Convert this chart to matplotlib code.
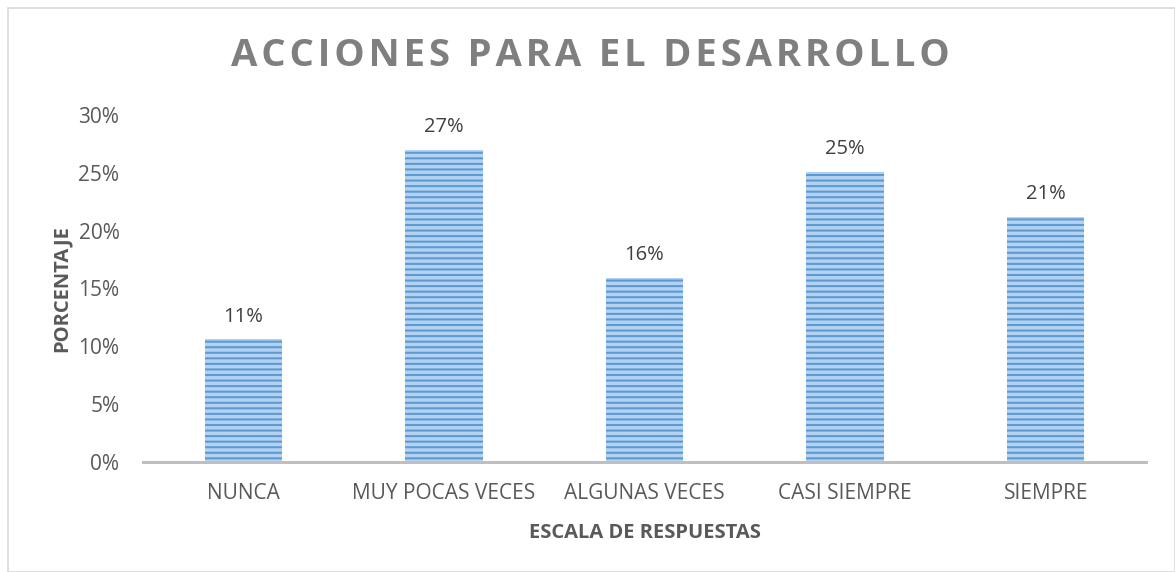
import numpy as np
import matplotlib.pyplot as plt
from matplotlib.patches import Rectangle
from matplotlib.ticker import PercentFormatter

categorias = ['NUNCA', 'MUY POCAS VECES', 'ALGUNAS VECES', 'CASI SIEMPRE', 'SIEMPRE']
valores = [0.106, 0.270, 0.159, 0.251, 0.212]
etiquetas = ['11%', '27%', '16%', '25%', '21%']

plt.rcParams['font.family'] = ['Open Sans', 'DejaVu Sans']
plt.rcParams['hatch.linewidth'] = 1.5
plt.rcParams['hatch.color'] = '#5B9BD5'

fig = plt.figure(figsize=(11.75, 5.72), dpi=100, facecolor='white')
ax = fig.add_axes([143 / 1175, 1 - 462 / 572, 1003 / 1175, 347 / 572])

x = np.arange(len(categorias))
ax.bar(x, valores, width=0.385, color='#B4D2F0', edgecolor='#5B9BD5',
       hatch='---', linewidth=0)

for xi, v, t in zip(x, valores, etiquetas):
    ax.text(xi, v + 0.011, t, ha='center', va='bottom', fontsize=14.5, color='#404040')

ax.set_xlim(-0.5, 4.5)
ax.set_ylim(0, 0.30)
ax.set_yticks(np.arange(0, 0.301, 0.05))
ax.yaxis.set_major_formatter(PercentFormatter(1.0, decimals=0))
ax.set_xticks(x)
ax.set_xticklabels(categorias)
ax.tick_params(axis='both', length=0, labelsize=15, labelcolor='#595959')
ax.tick_params(axis='x', pad=15)
ax.tick_params(axis='y', pad=17)
for s in ['top', 'right', 'left']:
    ax.spines[s].set_visible(False)
ax.spines['bottom'].set_color('#BFBFBF')
ax.spines['bottom'].set_linewidth(2.2)

ax.set_xlabel('ESCALA DE RESPUESTAS', fontsize=14.5, fontweight='bold', color='#595959', labelpad=14)
ax.set_ylabel('PORCENTAJE', fontsize=14.5, fontweight='bold', color='#595959', labelpad=5)

titulo = 'ACCIONES PARA EL DESARROLLO'
fig.text(590 / 1175, 1 - 56 / 572, '\u200a'.join(titulo), ha='center', va='center',
         fontsize=27.5, fontweight='bold', color='#7F7F7F')

fig.patches.append(Rectangle((8 / 1175, 0), 1 - 8 / 1175, 1 - 8 / 572, transform=fig.transFigure,
                             fill=False, edgecolor='#D9D9D9', linewidth=1.2))

fig.savefig('out.png', dpi=100, facecolor='white')
